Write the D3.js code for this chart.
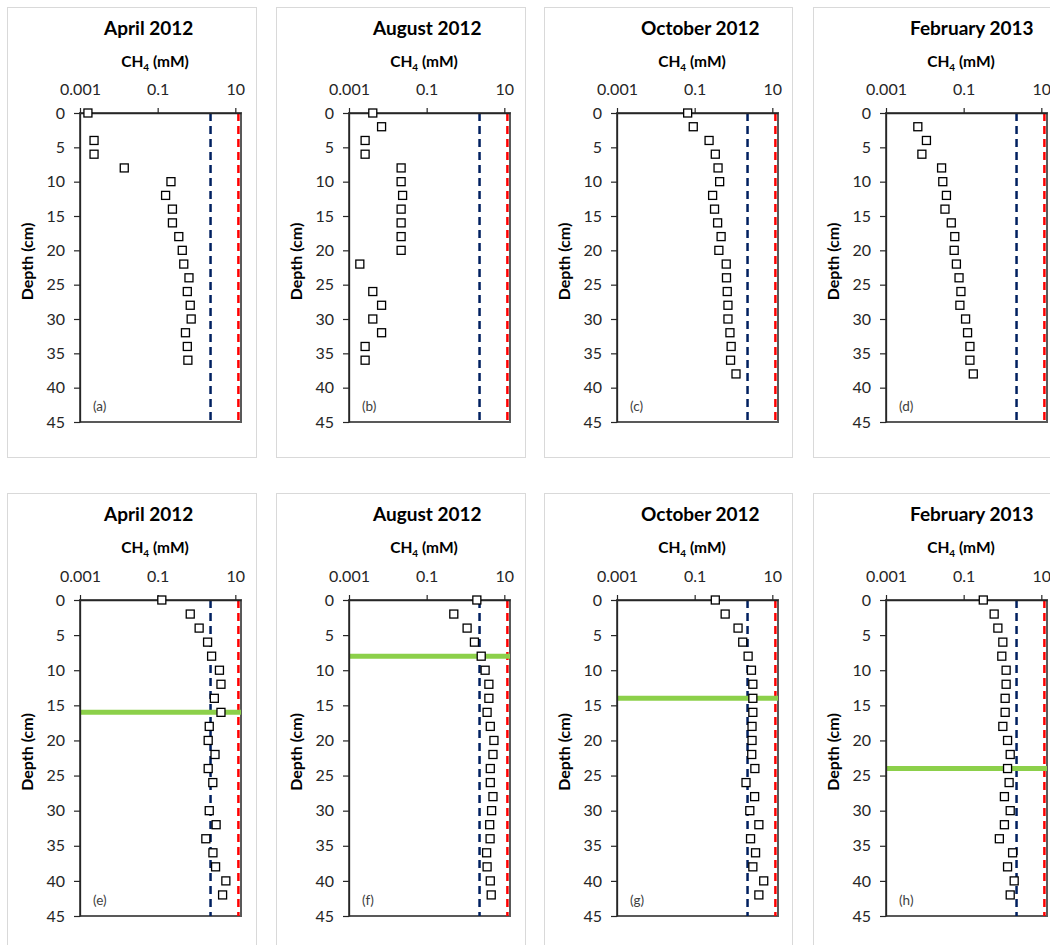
<!DOCTYPE html>
<html lang="en">

<head>
  <meta charset="utf-8">
  <title>CH4 depth profiles</title>
  <script src="https://d3js.org/d3.v7.min.js"></script>
  <style>
    body { margin: 0; background: #fff; }
    svg { display: block; font-family: Lato, "Open Sans", sans-serif; }
  </style>
</head>

<body>
  <svg id="chart" width="1050" height="945"></svg>
  <script>
    // panel titles and letters, top row then bottom row
    const titles = ["April 2012", "August 2012", "October 2012", "February 2013",
      "April 2012", "August 2012", "October 2012", "February 2013"];
    const letters = ["(a)", "(b)", "(c)", "(d)", "(e)", "(f)", "(g)", "(h)"];

    // depth (cm) and CH4 (mM)
    const depthA = [0, 4, 6, 8, 10, 12, 14, 16, 18, 20, 22, 24, 26, 28, 30, 32, 34, 36];
    const ch4A = [0.0016, 0.0023, 0.0023, 0.0138, 0.22, 0.16, 0.24, 0.24, 0.35, 0.43, 0.47, 0.64, 0.58, 0.69, 0.73, 0.52, 0.58, 0.6];

    const depthB = [0, 2, 4, 6, 8, 10, 12, 14, 16, 18, 20, 22, 26, 28, 30, 32, 34, 36];
    const ch4B = [0.0041, 0.0069, 0.0026, 0.0026, 0.022, 0.022, 0.024, 0.022, 0.022, 0.022, 0.022, 0.0019, 0.0041, 0.0069, 0.0041, 0.0069, 0.0026, 0.0026];

    const depthC = [0, 2, 4, 6, 8, 10, 12, 14, 16, 18, 20, 22, 24, 26, 28, 30, 32, 34, 36, 38];
    const ch4C = [0.066, 0.092, 0.235, 0.34, 0.4, 0.44, 0.29, 0.325, 0.39, 0.48, 0.42, 0.65, 0.66, 0.69, 0.72, 0.72, 0.81, 0.87, 0.84, 1.16];

    const depthD = [2, 4, 6, 8, 10, 12, 14, 16, 18, 20, 22, 24, 26, 28, 30, 32, 34, 36, 38];
    const ch4D = [0.0066, 0.011, 0.0084, 0.027, 0.029, 0.036, 0.033, 0.048, 0.059, 0.057, 0.065, 0.076, 0.085, 0.08, 0.112, 0.126, 0.145, 0.145, 0.177];

    const depthE = [0, 2, 4, 6, 8, 10, 12, 14, 16, 18, 20, 22, 24, 26, 30, 32, 34, 36, 38, 40, 42];
    const ch4E = [0.128, 0.69, 1.17, 1.93, 2.45, 3.9, 4.27, 2.88, 4.27, 2.13, 2.0, 3.0, 2.0, 2.63, 2.13, 3.2, 1.74, 2.65, 3.1, 5.7, 4.7];

    const depthF = [0, 2, 4, 6, 8, 10, 12, 14, 16, 18, 20, 22, 24, 26, 28, 30, 32, 34, 36, 38, 40, 42];
    const ch4F = [1.96, 0.5, 1.1, 1.7, 2.54, 3.2, 4.0, 4.0, 3.6, 4.35, 5.4, 5.1, 4.35, 4.35, 5.1, 4.7, 4.2, 4.3, 3.5, 3.6, 4.35, 4.6];

    const depthG = [0, 2, 4, 6, 8, 10, 12, 14, 16, 18, 20, 22, 24, 26, 28, 30, 32, 34, 36, 38, 40, 42];
    const ch4G = [0.34, 0.61, 1.31, 1.73, 2.38, 2.9, 3.15, 3.15, 3.15, 3.0, 3.0, 2.95, 3.55, 2.1, 3.5, 2.63, 4.5, 2.75, 3.7, 3.15, 6.0, 4.5];

    const depthH = [0, 2, 4, 6, 8, 10, 12, 14, 16, 18, 20, 22, 24, 26, 28, 30, 32, 34, 36, 38, 40, 42];
    const ch4H = [0.32, 0.61, 0.76, 1.02, 0.96, 1.24, 1.24, 1.17, 1.17, 1.02, 1.35, 1.58, 1.35, 1.48, 1.12, 1.58, 1.12, 0.83, 1.82, 1.35, 2.0, 1.58];

    const depths = [depthA, depthB, depthC, depthD, depthE, depthF, depthG, depthH];
    const values = [ch4A, ch4B, ch4C, ch4D, ch4E, ch4F, ch4G, ch4H];

    // reference lines
    const blueLimit = 2.3;
    const redLimit = 12;
    const greenDepth = [null, null, null, null, 16, 8, 14, 24];

    const xTicks = [0.001, 0.1, 10];
    const yTicks = [0, 5, 10, 15, 20, 25, 30, 35, 40, 45];

    // layout
    const boxX = [7, 276, 544, 813];
    const boxW = [249, 249, 248, 260];
    const boxY = [7, 493];
    const boxH = [450, 470];
    const plotTop = [106, 107];
    const plotH = [309, 316];
    const plotOffX = 73;
    const plotW = 161;

    const svg = d3.select("#chart");

    for (let i = 0; i < 8; i++) {
      const row = Math.floor(i / 4);
      const col = i % 4;
      const bx = boxX[col], by = boxY[row];

      svg.append("rect")
        .attr("x", bx + 0.5).attr("y", by + 0.5)
        .attr("width", boxW[col]).attr("height", boxH[row])
        .attr("fill", "#fff").attr("stroke", "#d9d9d9");

      const px = bx + plotOffX;
      const py = by + plotTop[row];
      const ph = plotH[row];

      const x = d3.scaleLog().domain([0.001, 14]).range([0, plotW]);
      const y = d3.scaleLinear().domain([0, 45]).range([0, ph]);

      const g = svg.append("g").attr("transform", `translate(${px},${py})`);

      // title and axis labels
      svg.append("text")
        .attr("x", bx + 97).attr("y", by + 28)
        .attr("font-size", 19).attr("font-weight", "bold")
        .text(titles[i]);

      const ch4 = svg.append("text")
        .attr("x", px + 75).attr("y", by + 60)
        .attr("text-anchor", "middle")
        .attr("font-size", 15.5).attr("font-weight", "bold");
      ch4.append("tspan").text("CH");
      ch4.append("tspan").attr("font-size", 10).attr("dy", 4).text("4");
      ch4.append("tspan").attr("dy", -4).text(" (mM)");

      svg.append("text")
        .attr("transform", `translate(${px - 47},${py + ph / 2 - 6}) rotate(-90)`)
        .attr("text-anchor", "middle")
        .attr("font-size", 16).attr("font-weight", "bold")
        .text("Depth (cm)");

      // plot frame
      g.append("rect")
        .attr("width", plotW).attr("height", ph)
        .attr("fill", "none").attr("stroke", "#595959").attr("stroke-width", 2);

      // limits
      g.append("line")
        .attr("x1", x(blueLimit)).attr("x2", x(blueLimit))
        .attr("y1", 0).attr("y2", ph)
        .attr("stroke", "#002060").attr("stroke-width", 2.5)
        .attr("stroke-dasharray", "8,5");
      g.append("line")
        .attr("x1", x(redLimit)).attr("x2", x(redLimit))
        .attr("y1", 0).attr("y2", ph)
        .attr("stroke", "#ff0000").attr("stroke-width", 2.5)
        .attr("stroke-dasharray", "8,5");

      if (greenDepth[i] !== null) {
        g.append("line")
          .attr("x1", 0).attr("x2", plotW)
          .attr("y1", y(greenDepth[i])).attr("y2", y(greenDepth[i]))
          .attr("stroke", "#8cd04a").attr("stroke-width", 5);
      }

      // axes
      const xAxis = g.append("g")
        .call(d3.axisTop(x).tickValues(xTicks).tickFormat(d3.format("")).tickSize(5).tickSizeOuter(0).tickPadding(13));
      const yAxis = g.append("g")
        .call(d3.axisLeft(y).tickValues(yTicks).tickSize(6).tickSizeOuter(0).tickPadding(9));
      [xAxis, yAxis].forEach(a => {
        a.select(".domain").attr("stroke", "#262626").attr("stroke-width", 1.3);
        a.selectAll(".tick line").attr("stroke", "#262626").attr("stroke-width", 1.2);
        a.selectAll(".tick text").attr("font-size", 16).attr("fill", "#262626")
          .attr("font-family", "Lato, 'Open Sans', sans-serif");
      });

      // data points
      const pts = depths[i].map((d, k) => ({ depth: d, val: values[i][k] }));
      g.selectAll(".pt")
        .data(pts)
        .enter()
        .append("rect")
        .attr("class", "pt")
        .attr("x", d => x(d.val) - 4)
        .attr("y", d => y(d.depth) - 4)
        .attr("width", 8).attr("height", 8)
        .attr("fill", "#fff").attr("stroke", "#000").attr("stroke-width", 1.3);

      g.append("text")
        .attr("x", 13).attr("y", ph - 11)
        .attr("font-size", 13.5).attr("fill", "#404040")
        .text(letters[i]);
    }
  </script>
</body>

</html>
